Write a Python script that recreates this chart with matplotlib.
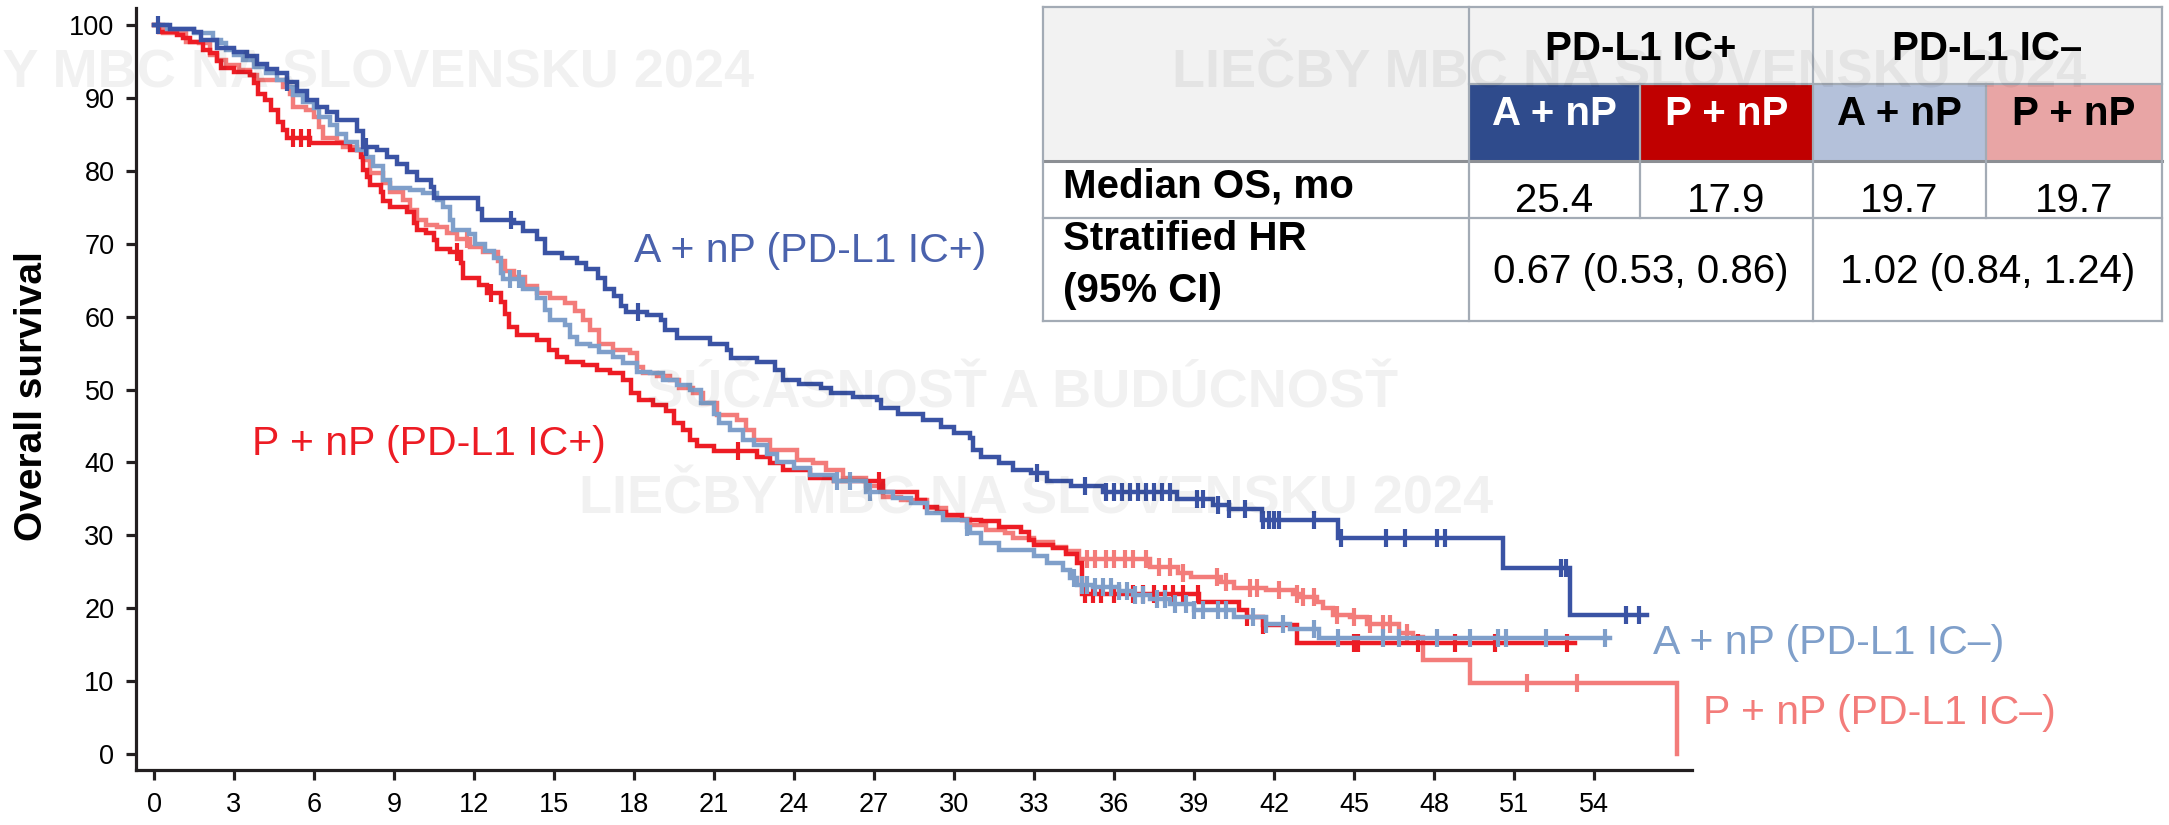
import numpy as np
import matplotlib
matplotlib.use('Agg')
import matplotlib.pyplot as plt
from matplotlib.patches import Rectangle
from matplotlib import font_manager as fm

plt.rcParams['font.family'] = ['Liberation Sans', 'DejaVu Sans']

# ---------------- data ----------------
x_ticks = list(range(0, 55, 3))
y_ticks = list(range(0, 101, 10))
y_label = 'Overall survival'

# A + nP (PD-L1 IC+)
apos_t = [0, 0.6, 1.5, 1.75, 2.35, 3.0, 3.5, 3.85, 4.25, 4.6, 5.0, 5.35, 5.75, 6.1, 6.5, 6.85, 7.6, 7.85,
          8.35, 8.75, 9.1, 9.5, 9.85, 10.4, 10.5, 12.15, 12.3, 13.5, 13.85, 14.35, 14.65, 15.3, 15.85, 16.2,
          16.65, 16.9, 17.25, 17.5, 17.7, 18.5, 19.0, 19.15, 19.6, 20.85, 21.5, 21.65, 22.6, 23.3, 23.6,
          24.2, 25.0, 25.4, 26.2, 27.1, 27.25, 27.9, 28.85, 29.5, 30.0, 30.6, 30.7, 31.0, 31.7, 32.2, 32.9,
          33.5, 34.4, 35.6, 38.35, 39.7, 40.3, 41.55, 44.4, 50.6, 53.1]
apos_s = [100, 99.5, 99.1, 98.0, 96.8, 96.3, 95.7, 94.7, 94.0, 93.4, 92.2, 91.0, 89.7, 88.8, 88.1, 87.0,
          85.4, 83.3, 82.9, 81.9, 81.0, 79.9, 78.7, 77.8, 76.2, 74.8, 73.3, 72.8, 71.7, 70.7, 68.7, 68.0,
          67.4, 66.5, 65.3, 63.8, 62.8, 61.4, 60.7, 60.2, 59.6, 58.2, 57.0, 56.3, 55.4, 54.3, 53.8, 52.7,
          51.3, 50.8, 50.2, 49.5, 49.0, 48.6, 47.5, 46.7, 45.8, 44.9, 44.0, 43.3, 41.7, 40.8, 39.9, 39.0,
          38.5, 37.4, 36.7, 36.0, 35.0, 34.2, 33.6, 32.1, 29.6, 25.5, 19.1]
apos_end = 56.0
apos_cens = [0.15, 5.0, 7.95, 13.4, 18.15, 33.1, 34.9, 35.7, 36.0, 36.3, 36.6, 36.9, 37.2, 37.5, 37.8,
             38.1, 39.1, 39.35, 39.9, 40.3, 40.9, 41.6, 41.8, 42.0, 42.2, 43.5, 44.5, 46.2, 46.9, 48.1,
             48.4, 52.75, 52.95, 55.2, 55.7]

# P + nP (PD-L1 IC+)
ppos_t = [0, 0.2, 0.85, 1.1, 1.35, 1.85, 2.1, 2.35, 2.5, 3.0, 3.6, 3.75, 3.9, 4.15, 4.4, 4.65, 4.85, 5.0,
          5.85, 7.35, 7.75, 7.85, 8.0, 8.1, 8.5, 8.6, 8.85, 9.5, 9.75, 9.85, 10.2, 10.5, 10.6, 11.1, 11.5,
          11.6, 12.2, 12.5, 13.0, 13.15, 13.3, 13.6, 14.35, 14.8, 15.1, 15.5, 16.1, 16.6, 17.1, 17.6, 17.9,
          18.2, 18.7, 19.2, 19.5, 19.85, 20.1, 20.35, 21.0, 22.6, 23.1, 23.6, 24.6, 25.5, 27.35, 28.6, 28.9,
          29.35, 29.7, 30.3, 31.0, 31.7, 32.5, 32.8, 33.0, 33.7, 34.2, 34.6, 34.8, 39.2, 40.7, 41.0, 41.6,
          42.85]
ppos_s = [100, 99.1, 98.6, 98.2, 97.7, 96.6, 96.1, 95.0, 94.1, 93.6, 93.1, 92.0, 90.6, 89.7, 88.3, 86.7,
          85.6, 84.5, 83.8, 82.9, 81.9, 80.1, 79.2, 78.1, 77.1, 75.8, 75.1, 74.4, 72.8, 71.9, 71.5, 70.5,
          69.3, 68.8, 67.4, 65.3, 64.3, 63.2, 62.0, 60.4, 58.6, 57.5, 56.8, 55.4, 54.5, 53.8, 53.4, 52.7,
          52.2, 51.3, 49.5, 48.6, 47.9, 47.0, 45.4, 44.4, 43.1, 42.2, 41.5, 40.8, 39.9, 39.0, 37.9, 37.4,
          36.0, 34.8, 33.9, 33.2, 32.8, 32.1, 31.9, 31.2, 30.5, 29.4, 28.7, 28.2, 27.5, 26.2, 22.0, 20.9,
          19.8, 18.8, 17.7, 15.2]
ppos_end = 53.3
ppos_cens = [5.2, 5.5, 5.8, 11.35, 12.65, 21.9, 27.2, 34.9, 35.2, 35.5, 36.0, 36.7, 37.1, 37.5, 37.9,
             38.2, 38.6, 39.15, 41.0, 41.6, 45.0, 45.15, 47.4, 48.8, 50.3, 53.0]

# A + nP (PD-L1 IC-)
aneg_t = [0, 0.5, 1.5, 2.2, 2.5, 2.7, 3.0, 3.35, 3.75, 4.2, 4.6, 5.0, 5.2, 5.6, 6.0, 6.2, 6.6, 6.85, 7.2,
          7.6, 8.0, 8.2, 8.6, 8.85, 9.6, 10.1, 10.6, 10.85, 11.1, 11.2, 11.8, 12.05, 12.4, 12.75, 13.0,
          13.1, 13.85, 14.35, 14.65, 14.85, 15.4, 15.6, 15.85, 16.35, 16.7, 17.2, 17.6, 18.1, 18.6, 19.1,
          19.6, 20.1, 20.5, 21.0, 21.2, 21.6, 22.1, 22.5, 23.0, 23.35, 24.0, 24.6, 25.5, 26.7, 27.7, 28.4,
          29.0, 29.6, 30.5, 30.6, 31.0, 31.7, 33.0, 33.5, 34.1, 34.35, 34.6, 35.2, 36.2, 36.7, 37.35, 38.1,
          39.0, 40.5, 41.7, 42.6, 43.7]
aneg_s = [100, 99.5, 98.9, 97.9, 97.5, 96.6, 95.9, 95.2, 94.3, 93.4, 92.5, 91.5, 90.4, 89.5, 88.6, 87.4,
          86.3, 85.1, 84.0, 82.9, 81.9, 80.6, 78.7, 77.6, 77.3, 76.9, 76.0, 75.1, 73.3, 71.9, 71.3, 69.9,
          69.0, 68.0, 66.0, 65.2, 63.8, 62.5, 60.9, 59.5, 58.9, 57.2, 56.3, 55.9, 55.2, 54.5, 53.6, 52.4,
          52.2, 51.3, 50.6, 49.9, 48.1, 46.7, 45.4, 44.4, 43.1, 42.4, 41.2, 40.1, 39.2, 38.3, 37.4, 36.0,
          35.1, 34.4, 33.0, 32.1, 31.2, 30.3, 28.9, 28.0, 27.1, 26.2, 25.2, 24.1, 23.2, 22.9, 22.3, 21.8,
          21.2, 20.6, 19.8, 18.8, 17.9, 17.2, 15.9]
aneg_end = 54.6
aneg_cens = [13.35, 13.7, 25.6, 26.1, 26.85, 30.5, 34.5, 34.8, 35.0, 35.3, 35.6, 35.9, 36.2, 36.5, 36.8,
             37.1, 37.6, 37.9, 38.3, 38.7, 39.0, 39.35, 39.9, 40.2, 41.2, 41.7, 42.35, 43.5, 44.4, 46.1,
             46.7, 48.1, 49.35, 50.4, 50.7, 52.2, 54.4]

# P + nP (PD-L1 IC-)
pneg_t = [0, 0.35, 1.2, 1.7, 2.1, 2.35, 2.7, 3.2, 3.6, 3.85, 4.85, 5.1, 5.2, 5.7, 6.0, 6.2, 6.35, 6.85,
          7.1, 7.6, 7.85, 8.1, 8.6, 8.85, 9.35, 9.6, 9.85, 10.2, 10.6, 11.0, 11.35, 11.85, 12.35, 12.9,
          13.15, 13.5, 13.9, 14.35, 14.85, 15.4, 15.8, 16.1, 16.35, 16.7, 17.2, 17.85, 18.1, 18.35, 18.85,
          19.35, 19.7, 20.2, 20.6, 21.1, 21.85, 22.2, 22.5, 23.1, 24.1, 24.7, 25.2, 25.85, 26.7, 27.35,
          28.0, 29.0, 29.7, 30.6, 31.2, 31.9, 32.2, 33.0, 33.7, 34.2, 34.7, 37.35, 38.4, 38.9, 40.0, 40.5,
          41.7, 42.7, 43.0, 43.6, 43.85, 44.2, 44.85, 45.5, 46.7, 47.2, 47.6, 49.35, 57.1]
pneg_s = [100, 98.9, 97.7, 97.5, 95.9, 95.2, 94.5, 93.8, 93.1, 92.5, 91.5, 90.6, 88.8, 88.3, 87.4, 86.0,
          84.5, 84.0, 83.3, 82.9, 81.5, 79.7, 78.3, 77.1, 76.0, 74.6, 73.3, 72.6, 72.3, 71.4, 70.6, 69.6,
          68.8, 67.6, 66.2, 65.4, 64.2, 63.2, 62.5, 61.8, 60.8, 59.5, 58.2, 56.3, 55.4, 55.0, 53.1, 52.2,
          51.8, 51.3, 50.2, 49.5, 48.1, 46.5, 45.8, 44.4, 43.1, 41.7, 40.3, 39.9, 39.0, 37.8, 36.7, 35.3,
          34.8, 33.7, 32.3, 31.4, 30.7, 30.3, 29.6, 29.1, 28.4, 27.8, 26.7, 25.7, 24.9, 24.3, 23.6, 22.8,
          22.5, 22.0, 21.6, 20.9, 20.0, 19.1, 18.8, 17.9, 16.6, 16.1, 12.9, 9.7, 0.0]
pneg_end = 57.1
pneg_cens = [11.75, 35.0, 35.3, 35.7, 36.0, 36.4, 36.7, 37.2, 37.7, 38.1, 38.6, 39.85, 40.2, 41.1, 41.35,
             42.2, 42.85, 43.1, 43.5, 44.35, 45.0, 45.6, 46.1, 46.35, 47.0, 51.5, 53.35]

curve_labels = ['A + nP (PD-L1 IC+)', 'P + nP (PD-L1 IC+)', 'A + nP (PD-L1 IC–)', 'P + nP (PD-L1 IC–)']

# table content
table_groups = ['PD-L1 IC+', 'PD-L1 IC–']
table_arms = ['A + nP', 'P + nP', 'A + nP', 'P + nP']
row_labels = ['Median OS, mo', 'Stratified HR', '(95% CI)']
median_os = ['25.4', '17.9', '19.7', '19.7']
hr_text = ['0.67 (0.53, 0.86)', '1.02 (0.84, 1.24)']
watermark_1 = 'LIEČBY MBC NA SLOVENSKU 2024'
watermark_2 = 'SÚČASNOSŤ A BUDÚCNOSŤ'

# ---------------- style ----------------
C_DBLUE = '#3a53a4'
C_RED = '#ed1c24'
C_LBLUE = '#7f9fca'
C_SALMON = '#f37c7a'
C_AX = '#231f20'

W, H = 2169, 825
fig = plt.figure(figsize=(W / 100, H / 100), dpi=100)
ax = fig.add_axes([136 / W, 1 - 770 / H, (1692 - 136) / W, (770 - 8) / H])
ax.set_xlim(-0.675, 57.67)
ax.set_ylim(-2.19, 102.33)

def surv_at(t, s, x):
    t = np.asarray(t); s = np.asarray(s)
    idx = np.searchsorted(t, np.asarray(x), side='right') - 1
    return s[idx]

series = [
    (pneg_t, pneg_s, pneg_end, pneg_cens, C_SALMON),
    (ppos_t, ppos_s, ppos_end, ppos_cens, C_RED),
    (aneg_t, aneg_s, aneg_end, aneg_cens, C_LBLUE),
    (apos_t, apos_s, apos_end, apos_cens, C_DBLUE),
]
for i, (t, s, end, cens, col) in enumerate(series):
    tt = list(t) + ([end] if end > t[-1] else [])
    ss = list(s) + ([s[-1]] if end > t[-1] else [])
    ax.step(tt, ss, where='post', color=col, lw=3.2, zorder=3 + i, solid_joinstyle='miter')
    ax.plot(cens, surv_at(t, s, cens), ls='none', marker='|', ms=13.5, mew=3.0, color=col, zorder=3 + i)

for sp in ['top', 'right']:
    ax.spines[sp].set_visible(False)
for sp in ['left', 'bottom']:
    ax.spines[sp].set_linewidth(2.3)
    ax.spines[sp].set_color(C_AX)
ax.set_xticks(x_ticks)
ax.set_yticks(y_ticks)
ax.tick_params(direction='out', length=7.5, width=2.3, color=C_AX, labelsize=19.5, pad=8)
ax.set_ylabel(y_label, fontsize=28, fontweight='bold')
ax.yaxis.set_label_coords(-0.0555, 0.491)

lab_fs = 29.5
ax.text(18.0, 67.5, curve_labels[0], color='#4a62ad', fontsize=lab_fs, va='baseline', ha='left')
ax.text(3.67, 41.0, curve_labels[1], color=C_RED, fontsize=lab_fs, va='baseline', ha='left')
ax.text(56.2, 13.7, curve_labels[2], color=C_LBLUE, fontsize=lab_fs, va='baseline', ha='left', clip_on=False)
ax.text(58.1, 4.1, curve_labels[3], color=C_SALMON, fontsize=lab_fs, va='baseline', ha='left', clip_on=False)

# ---------------- table (overlay in pixel coordinates) ----------------
tax = fig.add_axes([0, 0, 1, 1], zorder=10)
tax.set_xlim(0, W)
tax.set_ylim(H, 0)
tax.axis('off')
tax.patch.set_alpha(0)

cx = [1043, 1469, 1640, 1813, 1986, 2162]
ry = [7, 84, 161, 218, 321]
GRAY = '#f2f2f2'
cell_cols = ['#2f4b8c', '#c00000', '#b4c1da', '#e8a5a5']
cell_txt = ['white', 'white', 'black', 'black']

def rect(x0, y0, x1, y1, fc):
    tax.add_patch(Rectangle((x0, y0), x1 - x0, y1 - y0, facecolor=fc, edgecolor='none', zorder=1))

rect(cx[0], ry[0], cx[1], ry[2], GRAY)
rect(cx[1], ry[0], cx[5], ry[1], GRAY)
for j in range(4):
    rect(cx[j + 1], ry[1], cx[j + 2], ry[2], cell_cols[j])
rect(cx[0], ry[2], cx[5], ry[4], 'white')

LC = '#a3abb5'
lw = 1.6
def hline(y, x0, x1, c=LC, w=lw):
    tax.plot([x0, x1], [y, y], color=c, lw=w, zorder=2, solid_capstyle='projecting')
def vline(x, y0, y1, c=LC, w=lw):
    tax.plot([x, x], [y0, y1], color=c, lw=w, zorder=2, solid_capstyle='projecting')

hline(ry[0], cx[0], cx[5])
hline(ry[1], cx[1], cx[5])
hline(ry[2], cx[0], cx[5], c='#8c8f94', w=2.2)
hline(ry[3], cx[0], cx[5])
hline(ry[4], cx[0], cx[5])
vline(cx[0], ry[0], ry[4])
vline(cx[5], ry[0], ry[4])
vline(cx[1], ry[0], ry[4])
vline(cx[3], ry[0], ry[4])
vline(cx[2], ry[1], ry[3])
vline(cx[4], ry[1], ry[3])

tfs = 29
tax.text((cx[1] + cx[3]) / 2, 60, table_groups[0], fontsize=tfs, fontweight='bold', ha='center', va='baseline', zorder=3)
tax.text((cx[3] + cx[5]) / 2, 60, table_groups[1], fontsize=tfs, fontweight='bold', ha='center', va='baseline', zorder=3)
for j in range(4):
    xc = (cx[j + 1] + cx[j + 2]) / 2
    tax.text(xc, 125, table_arms[j], fontsize=tfs, fontweight='bold', color=cell_txt[j],
             ha='center', va='baseline', zorder=3)
    tax.text(xc, 212, median_os[j], fontsize=tfs, ha='center', va='baseline', zorder=3)
tax.text(1063, 197, row_labels[0], fontsize=tfs, fontweight='bold', ha='left', va='baseline', zorder=3)
tax.text(1063, 250, row_labels[1], fontsize=tfs, fontweight='bold', ha='left', va='baseline', zorder=3)
tax.text(1063, 302, row_labels[2], fontsize=tfs, fontweight='bold', ha='left', va='baseline', zorder=3)
tax.text((cx[1] + cx[3]) / 2, 283, hr_text[0], fontsize=tfs, ha='center', va='baseline', zorder=3)
tax.text((cx[3] + cx[5]) / 2, 283, hr_text[1], fontsize=tfs, ha='center', va='baseline', zorder=3)

# ---------------- watermarks ----------------
names = {f.name for f in fm.fontManager.ttflist}
if 'Liberation Sans Narrow' in names:
    wm_fam, wm_fs = 'Liberation Sans Narrow', 48
else:
    wm_fam, wm_fs = 'Liberation Sans', 39
wm_kw = dict(family=wm_fam, fontsize=wm_fs, fontweight='bold', color='black', alpha=0.055,
             va='baseline', zorder=20)
tax.text(754, 88, watermark_1, ha='right', **wm_kw)
tax.text(1629, 88, watermark_1, ha='center', **wm_kw)
tax.text(1023, 407, watermark_2, ha='center', **wm_kw)
tax.text(1036, 513, watermark_1, ha='center', **wm_kw)

fig.savefig('out.png', dpi=100)
